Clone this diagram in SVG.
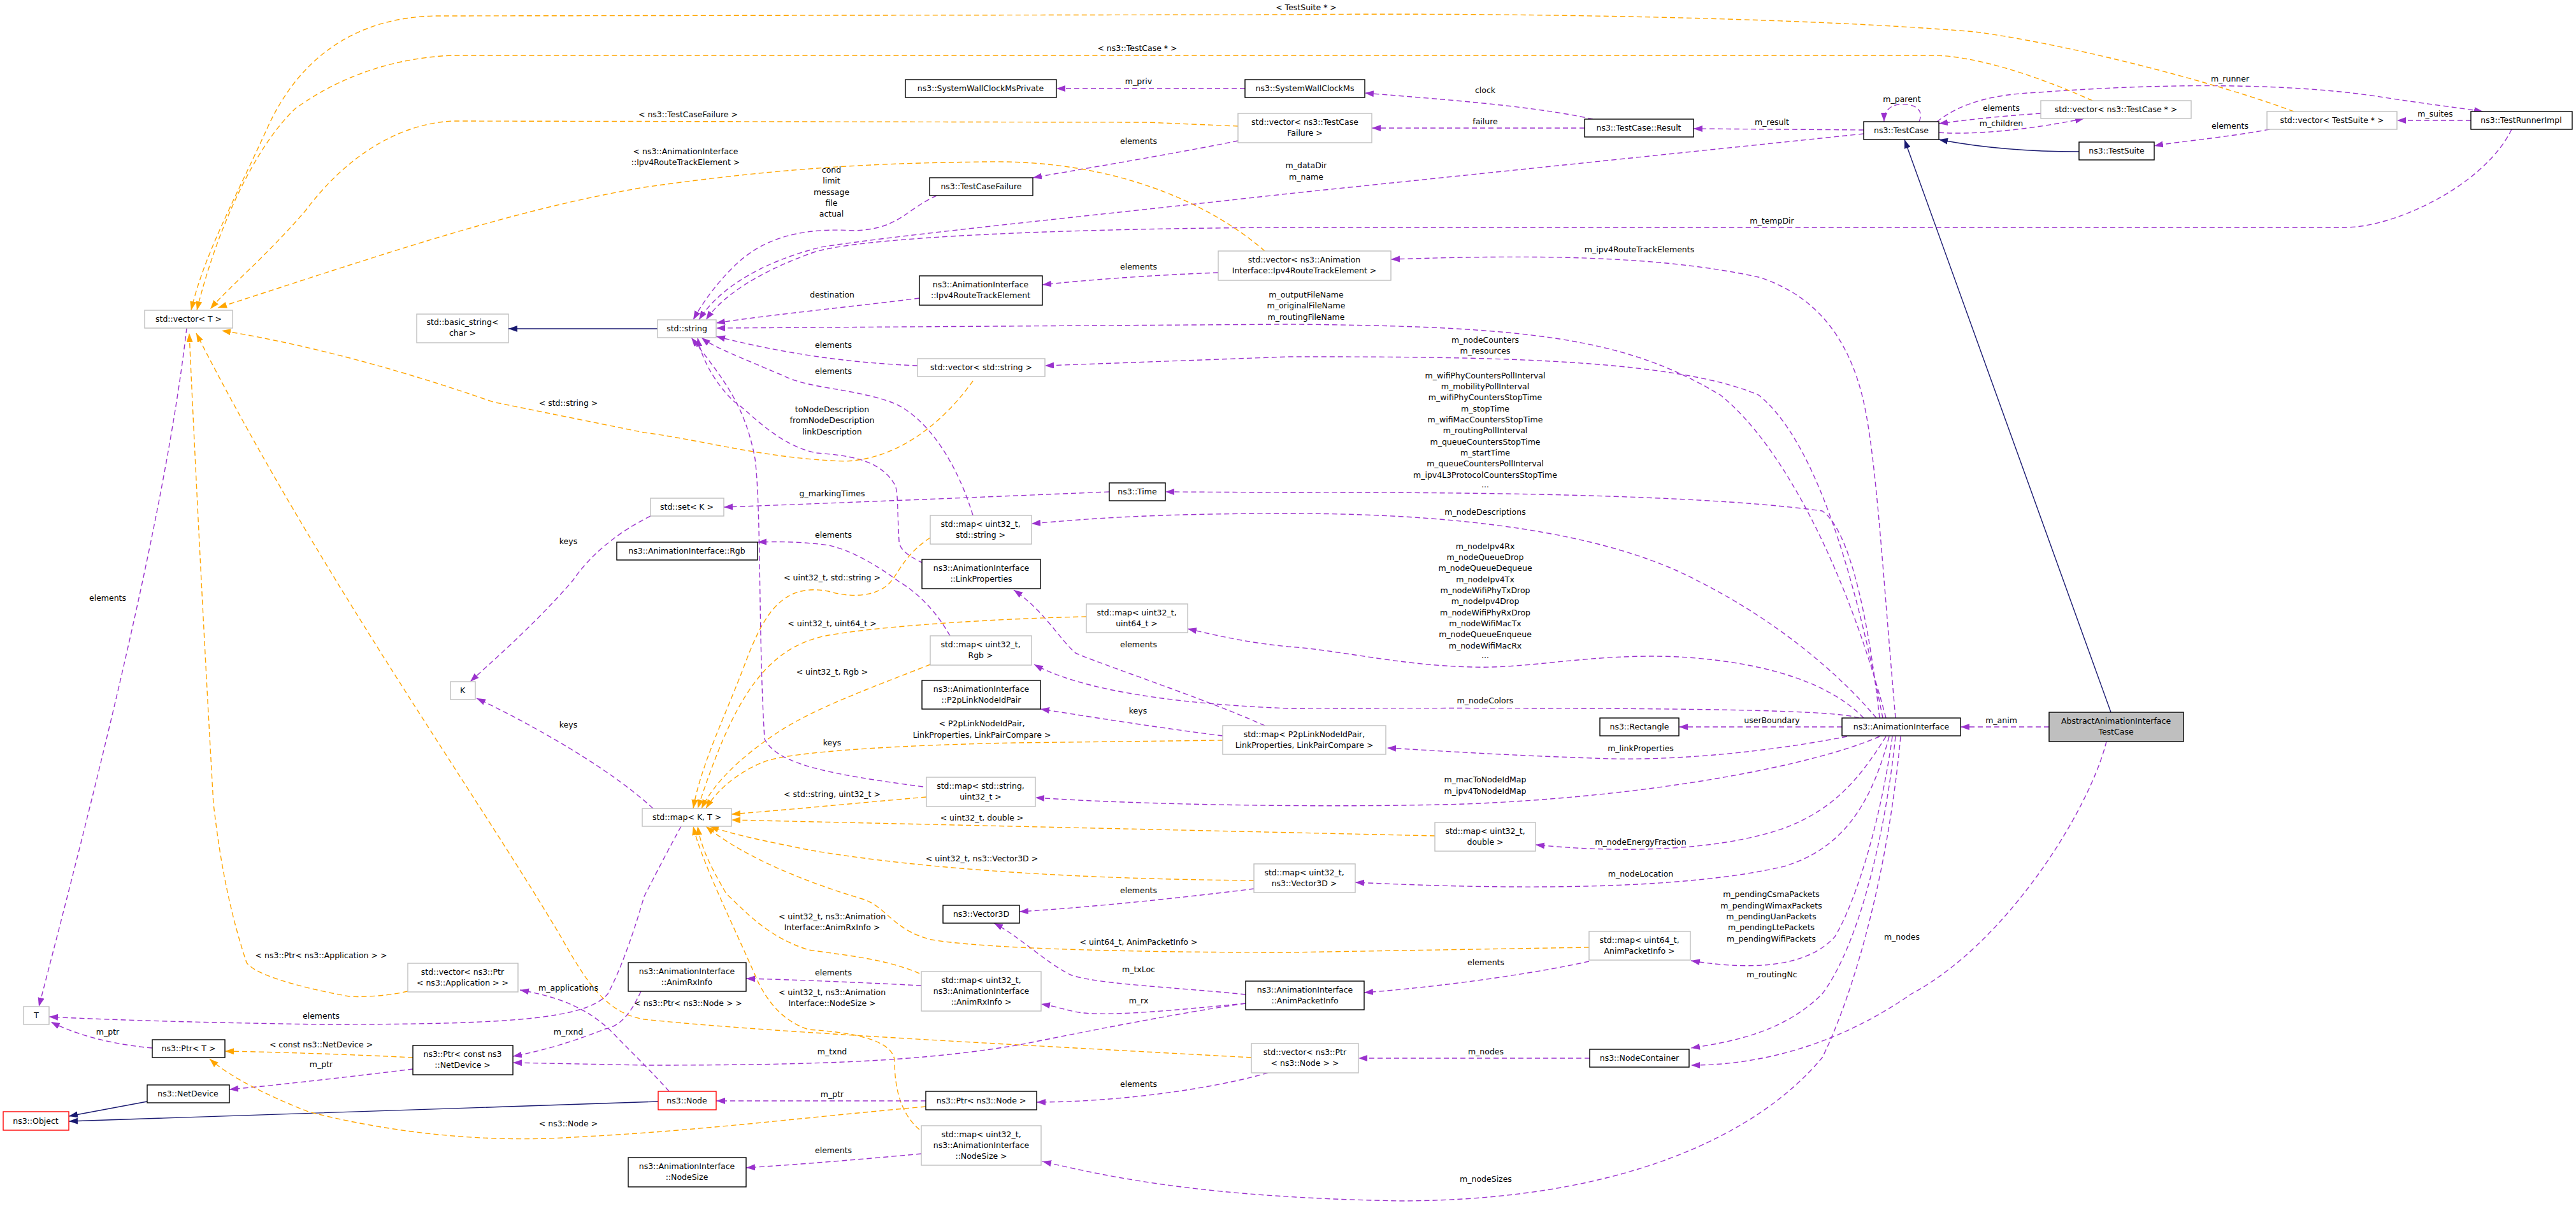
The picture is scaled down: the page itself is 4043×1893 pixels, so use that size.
<svg xmlns="http://www.w3.org/2000/svg" width="4043" height="1893" viewBox="0 0 4043 1893">
<style>
text{font-family:"DejaVu Sans","Liberation Sans",sans-serif;font-size:12.5px;fill:#000;text-anchor:middle}
rect{fill:#fff;stroke-width:1.4}
.b{stroke:#000}.g{stroke:#bfbfbf}.r{stroke:#ff0000}.f{fill:#bfbfbf;stroke:#000}
path{fill:none;stroke-width:1.4}
.p{stroke:#9a32cd;stroke-dasharray:8,5;marker-end:url(#mp)}
.o{stroke:#ffa500;stroke-dasharray:8,5;marker-end:url(#mo)}
.s{stroke:#191970;marker-end:url(#ms)}
</style>
<defs>
<marker id="mp" markerUnits="userSpaceOnUse" markerWidth="15" markerHeight="11" refX="14" refY="5" orient="auto"><path d="M0,0 L14,5 L0,10 z" style="fill:#9a32cd;stroke:none"/></marker>
<marker id="mo" markerUnits="userSpaceOnUse" markerWidth="15" markerHeight="11" refX="14" refY="5" orient="auto"><path d="M0,0 L14,5 L0,10 z" style="fill:#ffa500;stroke:none"/></marker>
<marker id="ms" markerUnits="userSpaceOnUse" markerWidth="15" markerHeight="11" refX="14" refY="5" orient="auto"><path d="M0,0 L14,5 L0,10 z" style="fill:#191970;stroke:none"/></marker>
</defs>
<rect x="0" y="0" width="4043" height="1893" style="fill:#fff;stroke:none"/>
<g id="edges">
<path class="p" d="M3878,189 L3762,189"/><text x="3822" y="183">m_suites</text>
<path class="p" d="M3562,203 C3500,215 3420,222 3381,229"/><text x="3500" y="202">elements</text>
<path class="s" d="M3263,238 C3180,238 3110,232 3043,219"/>
<path class="p" d="M3043,208 C3090,212 3180,205 3271,186"/><text x="3141" y="198">m_children</text>
<path class="p" d="M3203,178 C3130,183 3080,189 3043,194"/><text x="3141" y="174">elements</text>
<path class="p" d="M3012,191 C3022,168 2998,162 2980,164 C2965,166 2957,175 2957,191"/><text x="2985" y="160">m_parent</text>
<path class="p" d="M3040,191 C3080,160 3130,148 3200,145 C3400,130 3600,130 3742,153 C3800,162 3850,168 3897,175"/><text x="3500" y="128">m_runner</text>
<path class="p" d="M3942,203 C3900,290 3760,357 3680,357 L2000,357 C1600,360 1350,375 1280,395 C1180,430 1130,470 1108,502"/><text x="2781" y="351">m_tempDir</text>
<path class="p" d="M2925,210 L2022,304 C1700,340 1400,370 1288,388 C1200,410 1130,450 1097,502"/><text x="2050" y="264">m_dataDir</text><text x="2050" y="282">m_name</text>
<path class="p" d="M2925,204 L2658,202"/><text x="2781" y="196">m_result</text>
<path class="p" d="M2500,187 C2400,165 2250,155 2142,146"/><text x="2331" y="146">clock</text>
<path class="p" d="M2487,201 L2153,201"/><text x="2331" y="195">failure</text>
<path class="p" d="M1954,139 L1658,139"/><text x="1787" y="132">m_priv</text>
<path class="p" d="M1943,221 C1850,240 1700,265 1621,279"/><text x="1787" y="226">elements</text>
<path class="p" d="M1470,307 C1420,330 1410,360 1340,362 C1230,355 1180,390 1150,420 C1120,450 1100,480 1088,502"/><text x="1305" y="271">cond</text><text x="1305" y="288">limit</text><text x="1305" y="306">message</text><text x="1305" y="323">file</text><text x="1305" y="340">actual</text>
<path class="p" d="M1443,468 C1350,480 1200,495 1124,507"/><text x="1306" y="467">destination</text>
<path class="p" d="M1912,428 C1800,432 1700,440 1636,447"/><text x="1787" y="423">elements</text>
<path class="p" d="M2975,1127 C2955,900 2945,720 2925,631 C2900,520 2840,460 2760,435 C2600,400 2400,400 2183,407"/><text x="2573" y="396">m_ipv4RouteTrackElements</text>
<path class="p" d="M2960,1127 C2900,900 2800,700 2700,620 C2550,530 2400,512 2022,509 L1124,515"/><text x="2050" y="467">m_outputFileName</text><text x="2050" y="484">m_originalFileName</text><text x="2050" y="502">m_routingFileName</text>
<path class="p" d="M2955,1127 C2920,950 2860,700 2760,620 C2620,560 2300,560 2022,560 L1640,574"/><text x="2331" y="538">m_nodeCounters</text><text x="2331" y="555">m_resources</text>
<path class="p" d="M1440,574 C1350,570 1250,560 1124,528"/><text x="1308" y="546">elements</text>
<path class="p" d="M1527,809 C1500,720 1450,650 1398,631 C1340,610 1270,610 1230,590 C1160,560 1120,545 1101,530"/><text x="1308" y="587">elements</text>
<path class="p" d="M1449,884 C1420,870 1411,860 1411,848 C1408,800 1410,770 1404,760 C1380,720 1330,715 1282,711 C1220,700 1170,640 1153,631 C1120,600 1100,560 1095,530"/><text x="1306" y="647">toNodeDescription</text><text x="1306" y="664">fromNodeDescription</text><text x="1306" y="682">linkDescription</text>
<path class="p" d="M2950,1127 C2930,950 2900,830 2860,802 C2700,780 2400,772 2022,773 L1829,772"/>
<text x="2331" y="594">m_wifiPhyCountersPollInterval</text><text x="2331" y="611">m_mobilityPollInterval</text><text x="2331" y="628">m_wifiPhyCountersStopTime</text><text x="2331" y="646">m_stopTime</text><text x="2331" y="663">m_wifiMacCountersStopTime</text><text x="2331" y="680">m_routingPollInterval</text><text x="2331" y="698">m_queueCountersStopTime</text><text x="2331" y="715">m_startTime</text><text x="2331" y="732">m_queueCountersPollInterval</text><text x="2331" y="750">m_ipv4L3ProtocolCountersStopTime</text><text x="2331" y="765">...</text>
<path class="p" d="M1741,772 C1500,782 1300,790 1136,796"/><text x="1306" y="779">g_markingTimes</text>
<path class="p" d="M2945,1127 C2880,1050 2780,970 2667,913 C2550,850 2350,806 2022,806 C1800,806 1700,815 1619,822"/><text x="2331" y="808">m_nodeDescriptions</text>
<path class="p" d="M2925,1127 C2880,1080 2790,1040 2634,1031 C2500,1025 2400,1050 2312,1047 C2200,1045 2100,1020 2022,1015 C1950,1008 1900,995 1864,987"/>
<text x="2331" y="862">m_nodeIpv4Rx</text><text x="2331" y="879">m_nodeQueueDrop</text><text x="2331" y="896">m_nodeQueueDequeue</text><text x="2331" y="914">m_nodeIpv4Tx</text><text x="2331" y="931">m_nodeWifiPhyTxDrop</text><text x="2331" y="948">m_nodeIpv4Drop</text><text x="2331" y="966">m_nodeWifiPhyRxDrop</text><text x="2331" y="983">m_nodeWifiMacTx</text><text x="2331" y="1000">m_nodeQueueEnqueue</text><text x="2331" y="1018">m_nodeWifiMacRx</text><text x="2331" y="1033">...</text>
<path class="p" d="M2918,1127 C2880,1115 2700,1110 2022,1112 C1850,1105 1700,1085 1623,1043"/><text x="2331" y="1104">m_nodeColors</text>
<path class="p" d="M2891,1141 L2635,1141"/><text x="2781" y="1135">userBoundary</text>
<path class="p" d="M2899,1156 C2750,1185 2600,1195 2500,1190 C2350,1185 2250,1178 2177,1174"/><text x="2575" y="1179">m_linkProperties</text>
<path class="p" d="M3216,1141 L3077,1141"/><text x="3141" y="1135">m_anim</text>
<path class="s" d="M3313,1118 L2989,219"/>
<path class="p" d="M3306,1164 C3280,1270 3150,1480 3000,1560 C2900,1630 2780,1672 2654,1672"/><text x="2985" y="1475">m_nodes</text>
<path class="p" d="M1985,1139 C1900,1100 1720,1040 1688,1025 C1660,1000 1640,960 1591,926"/><text x="1787" y="1016">elements</text>
<path class="p" d="M1919,1155 C1800,1140 1680,1120 1633,1113"/><text x="1786" y="1120">keys</text>
<path class="o" d="M1919,1162 L1591,1166 C1400,1170 1250,1180 1204,1194 C1160,1210 1125,1240 1108,1269"/><text x="1541" y="1140">&lt; P2pLinkNodeIdPair,</text><text x="1541" y="1158">LinkProperties, LinkPairCompare &gt;</text>
<path class="p" d="M1491,998 C1470,960 1440,930 1411,913 C1380,890 1340,865 1301,856 C1260,850 1220,850 1189,851"/><text x="1308" y="844">elements</text>
<path class="o" d="M1460,1043 C1380,1075 1280,1110 1220,1150 C1160,1190 1120,1230 1101,1269"/><text x="1306" y="1059">&lt; uint32_t, Rgb &gt;</text>
<path class="o" d="M1705,968 C1600,970 1400,980 1301,997 C1200,1015 1150,1100 1095,1269"/><text x="1306" y="983">&lt; uint32_t, uint64_t &gt;</text>
<path class="o" d="M1460,844 C1420,870 1410,900 1398,913 C1380,935 1340,940 1300,928 C1230,915 1200,960 1170,1040 C1140,1120 1100,1200 1088,1269"/><text x="1306" y="911">&lt; uint32_t, std::string &gt;</text>
<path class="o" d="M1454,1251 C1350,1260 1250,1270 1148,1278"/><text x="1306" y="1251">&lt; std::string, uint32_t &gt;</text>
<path class="p" d="M2950,1156 C2850,1200 2600,1250 2300,1262 C2100,1268 1800,1264 1625,1252"/><text x="2331" y="1228">m_macToNodeIdMap</text><text x="2331" y="1246">m_ipv4ToNodeIdMap</text>
<path class="p" d="M1025,1269 C950,1200 820,1130 748,1096"/><text x="892" y="1142">keys</text>
<path class="p" d="M1021,810 C960,840 920,880 900,910 C840,980 770,1040 738,1070"/><text x="892" y="854">keys</text>
<path class="o" d="M2252,1312 L1148,1287"/><text x="1541" y="1288">&lt; uint32_t, double &gt;</text>
<path class="p" d="M2960,1156 C2920,1220 2880,1270 2800,1300 C2700,1335 2550,1340 2410,1326"/><text x="2575" y="1326">m_nodeEnergyFraction</text>
<path class="p" d="M2965,1156 C2940,1250 2900,1330 2800,1360 C2650,1395 2400,1398 2127,1385"/><text x="2575" y="1376">m_nodeLocation</text>
<path class="o" d="M1968,1382 C1700,1380 1450,1365 1269,1334 C1200,1320 1150,1310 1114,1297"/><text x="1541" y="1352">&lt; uint32_t, ns3::Vector3D &gt;</text>
<path class="p" d="M1968,1395 C1850,1410 1700,1425 1600,1431"/><text x="1787" y="1402">elements</text>
<path class="p" d="M1955,1561 C1850,1550 1720,1545 1680,1530 C1640,1510 1600,1470 1560,1449"/><text x="1787" y="1526">m_txLoc</text>
<path class="p" d="M1955,1575 C1850,1585 1750,1595 1700,1590 C1680,1588 1660,1580 1634,1576"/><text x="1787" y="1575">m_rx</text>
<path class="p" d="M2494,1509 C2400,1530 2250,1550 2141,1558"/><text x="2332" y="1515">elements</text>
<path class="p" d="M2970,1156 C2950,1300 2910,1420 2880,1470 C2840,1515 2760,1525 2654,1508"/><text x="2780" y="1408">m_pendingCsmaPackets</text><text x="2780" y="1426">m_pendingWimaxPackets</text><text x="2780" y="1443">m_pendingUanPackets</text><text x="2780" y="1460">m_pendingLtePackets</text><text x="2780" y="1478">m_pendingWifiPackets</text>
<path class="o" d="M2494,1487 L2022,1495 C1800,1495 1550,1490 1462,1475 C1400,1460 1390,1420 1350,1410 C1250,1380 1160,1340 1108,1297"/><text x="1787" y="1483">&lt; uint64_t, AnimPacketInfo &gt;</text>
<path class="p" d="M1446,1547 C1350,1542 1250,1538 1171,1536"/><text x="1308" y="1531">elements</text>
<path class="o" d="M1443,1528 C1390,1505 1330,1500 1269,1491 C1200,1470 1160,1420 1140,1403 C1115,1360 1100,1330 1095,1297"/><text x="1306" y="1443">&lt; uint32_t, ns3::Animation</text><text x="1306" y="1460">Interface::AnimRxInfo &gt;</text>
<path class="o" d="M1443,1773 C1410,1745 1404,1700 1404,1664 C1400,1630 1330,1620 1269,1616 C1220,1600 1200,1560 1191,1544 C1150,1450 1100,1350 1088,1297"/><text x="1306" y="1562">&lt; uint32_t, ns3::Animation</text><text x="1306" y="1579">Interface::NodeSize &gt;</text>
<path class="p" d="M1446,1811 C1350,1820 1250,1828 1171,1833"/><text x="1308" y="1810">elements</text>
<path class="p" d="M2983,1156 C2960,1400 2900,1580 2860,1660 C2760,1780 2550,1884 2200,1885 C1900,1880 1750,1850 1636,1823"/><text x="2332" y="1855">m_nodeSizes</text>
<path class="p" d="M2975,1156 C2960,1300 2920,1480 2860,1560 C2800,1620 2720,1635 2654,1645"/><text x="2781" y="1534">m_routingNc</text>
<path class="p" d="M2495,1661 L2132,1661"/><text x="2332" y="1655">m_nodes</text>
<path class="p" d="M1990,1684 C1900,1710 1750,1730 1627,1730"/><text x="1787" y="1706">elements</text>
<path class="o" d="M1964,1660 C1600,1640 1200,1620 1011,1600 C950,1590 920,1540 880,1470 C750,1250 500,900 308,523"/><text x="1080" y="1579">&lt; ns3::Ptr&lt; ns3::Node &gt; &gt;</text>
<path class="p" d="M1453,1728 L1124,1728"/><text x="1306" y="1722">m_ptr</text>
<path class="s" d="M1033,1729 C700,1740 300,1755 108,1760"/>
<path class="s" d="M231,1729 L108,1752"/>
<path class="p" d="M648,1678 C550,1690 420,1705 360,1710"/><text x="504" y="1675">m_ptr</text>
<path class="o" d="M648,1660 C550,1655 420,1651 353,1650"/><text x="504" y="1644">&lt; const ns3::NetDevice &gt;</text>
<path class="o" d="M1453,1737 C1250,1755 1100,1775 900,1785 C750,1795 600,1775 484,1745 C420,1720 360,1690 329,1662"/><text x="892" y="1768">&lt; ns3::Node &gt;</text>
<path class="p" d="M239,1645 C180,1640 120,1625 80,1604"/><text x="169" y="1624">m_ptr</text>
<path class="p" d="M1955,1575 C1850,1590 1700,1620 1600,1640 C1450,1665 1300,1672 1011,1672 L805,1668"/><text x="1306" y="1655">m_txnd</text>
<path class="p" d="M1006,1556 C990,1590 975,1610 950,1615 C900,1635 850,1650 805,1658"/><text x="892" y="1624">m_rxnd</text>
<path class="p" d="M1050,1713 C1030,1690 1000,1660 970,1630 C930,1585 880,1565 816,1554"/><text x="892" y="1555">m_applications</text>
<path class="o" d="M640,1556 C600,1565 560,1565 548,1564 C470,1550 400,1530 387,1511 C350,1400 340,1300 335,1262 C320,1000 305,700 297,523"/><text x="504" y="1504">&lt; ns3::Ptr&lt; ns3::Application &gt; &gt;</text>
<path class="p" d="M293,515 C260,800 160,1200 61,1580"/><text x="169" y="943">elements</text>
<path class="p" d="M1069,1297 C1040,1350 1020,1390 1011,1407 C990,1480 970,1530 954,1560 C920,1600 800,1608 504,1608 C300,1605 150,1600 77,1596"/><text x="504" y="1599">elements</text>
<path class="p" d="M1449,1235 C1300,1215 1220,1200 1200,1160 C1190,1000 1195,800 1185,720 C1170,640 1140,600 1085,530"/><text x="1306" y="1170">keys</text>
<path class="o" d="M3600,175 C3480,130 3250,70 3100,50 C2800,25 2300,20 2022,23 L690,25 C560,25 470,90 420,200 C370,310 320,400 300,487"/><text x="2050" y="16">&lt; TestSuite * &gt;</text>
<path class="o" d="M3284,158 C3200,120 3100,87 3033,87 L709,87 C600,92 520,130 464,170 C400,230 340,360 309,487"/><text x="1785" y="80">&lt; ns3::TestCase * &gt;</text>
<path class="o" d="M1943,198 L1800,192 L710,190 C620,195 540,250 480,330 C420,400 360,450 330,485"/><text x="1080" y="184">&lt; ns3::TestCaseFailure &gt;</text>
<path class="o" d="M1985,394 C1900,320 1750,250 1546,254 C1400,256 1250,260 1011,294 C800,330 600,400 342,483"/><text x="1076" y="242">&lt; ns3::AnimationInterface</text><text x="1076" y="259">::Ipv4RouteTrackElement &gt;</text>
<path class="o" d="M1527,598 C1490,650 1420,720 1327,724 C1200,720 1100,690 1011,679 L774,631 C600,570 450,535 348,519"/><text x="892" y="637">&lt; std::string &gt;</text>
</g>
<g id="n1"><rect class="g" x="227" y="487" width="138" height="28"/><text x="296" y="505">std::vector&lt; T &gt;</text></g>
<g id="n2"><rect class="g" x="654" y="493" width="144" height="45"/><text x="726" y="510">std::basic_string&lt;</text><text x="726" y="527">char &gt;</text></g>
<path d="M1032,516 L798,516" class="s"/>
<g id="n3"><rect class="b" x="1421" y="125" width="237" height="28"/><text x="1539" y="143">ns3::SystemWallClockMsPrivate</text></g>
<g id="n4"><rect class="b" x="1954" y="125" width="188" height="28"/><text x="2048" y="143">ns3::SystemWallClockMs</text></g>
<g id="n5"><rect class="g" x="1943" y="178" width="210" height="46"/><text x="2048" y="196">std::vector&lt; ns3::TestCase</text><text x="2048" y="213">Failure &gt;</text></g>
<g id="n6"><rect class="b" x="1459" y="279" width="162" height="28"/><text x="1540" y="297">ns3::TestCaseFailure</text></g>
<g id="n7"><rect class="b" x="1443" y="433" width="193" height="46"/><text x="1539" y="451">ns3::AnimationInterface</text><text x="1539" y="468">::Ipv4RouteTrackElement</text></g>
<g id="n8"><rect class="g" x="1912" y="394" width="271" height="46"/><text x="2047" y="412">std::vector&lt; ns3::Animation</text><text x="2047" y="429">Interface::Ipv4RouteTrackElement &gt;</text></g>
<g id="n9"><rect class="g" x="1032" y="502" width="92" height="28"/><text x="1078" y="520">std::string</text></g>
<g id="n10"><rect class="g" x="1440" y="563" width="200" height="28"/><text x="1540" y="581">std::vector&lt; std::string &gt;</text></g>
<g id="n11"><rect class="b" x="2487" y="187" width="171" height="28"/><text x="2572" y="205">ns3::TestCase::Result</text></g>
<g id="n12"><rect class="b" x="2925" y="191" width="118" height="28"/><text x="2984" y="209">ns3::TestCase</text></g>
<g id="n13"><rect class="g" x="3203" y="158" width="236" height="28"/><text x="3321" y="176">std::vector&lt; ns3::TestCase * &gt;</text></g>
<g id="n14"><rect class="g" x="3558" y="175" width="204" height="28"/><text x="3660" y="193">std::vector&lt; TestSuite * &gt;</text></g>
<g id="n15"><rect class="b" x="3878" y="175" width="159" height="28"/><text x="3957" y="193">ns3::TestRunnerImpl</text></g>
<g id="n16"><rect class="b" x="3263" y="223" width="118" height="28"/><text x="3322" y="241">ns3::TestSuite</text></g>
<g id="n17"><rect class="g" x="707" y="1070" width="39" height="28"/><text x="726" y="1088">K</text></g>
<g id="n18"><rect class="b" x="968" y="851" width="221" height="28"/><text x="1078" y="869">ns3::AnimationInterface::Rgb</text></g>
<g id="n19"><rect class="g" x="1021" y="782" width="115" height="28"/><text x="1078" y="800">std::set&lt; K &gt;</text></g>
<g id="n20"><rect class="b" x="1741" y="758" width="88" height="28"/><text x="1785" y="776">ns3::Time</text></g>
<g id="n21"><rect class="g" x="1460" y="809" width="159" height="45"/><text x="1539" y="827">std::map&lt; uint32_t,</text><text x="1539" y="844">std::string &gt;</text></g>
<g id="n22"><rect class="b" x="1447" y="878" width="186" height="46"/><text x="1540" y="896">ns3::AnimationInterface</text><text x="1540" y="913">::LinkProperties</text></g>
<g id="n23"><rect class="g" x="1705" y="948" width="159" height="45"/><text x="1784" y="966">std::map&lt; uint32_t,</text><text x="1784" y="983">uint64_t &gt;</text></g>
<g id="n24"><rect class="g" x="1460" y="998" width="159" height="46"/><text x="1539" y="1016">std::map&lt; uint32_t,</text><text x="1539" y="1033">Rgb &gt;</text></g>
<g id="n25"><rect class="b" x="1447" y="1068" width="186" height="45"/><text x="1540" y="1086">ns3::AnimationInterface</text><text x="1540" y="1103">::P2pLinkNodeIdPair</text></g>
<g id="n26"><rect class="g" x="1919" y="1139" width="256" height="45"/><text x="2047" y="1157">std::map&lt; P2pLinkNodeIdPair,</text><text x="2047" y="1174">LinkProperties, LinkPairCompare &gt;</text></g>
<g id="n27"><rect class="g" x="1454" y="1220" width="171" height="46"/><text x="1539" y="1238">std::map&lt; std::string,</text><text x="1539" y="1255">uint32_t &gt;</text></g>
<g id="n28"><rect class="b" x="2511" y="1127" width="124" height="28"/><text x="2573" y="1145">ns3::Rectangle</text></g>
<g id="n29"><rect class="b" x="2891" y="1127" width="186" height="28"/><text x="2984" y="1145">ns3::AnimationInterface</text></g>
<g id="n30"><rect class="f" x="3216" y="1118" width="211" height="46"/><text x="3321" y="1136">AbstractAnimationInterface</text><text x="3321" y="1153">TestCase</text></g>
<g id="n31"><rect class="g" x="37" y="1580" width="40" height="28"/><text x="57" y="1598">T</text></g>
<g id="n32"><rect class="g" x="640" y="1512" width="173" height="45"/><text x="726" y="1530">std::vector&lt; ns3::Ptr</text><text x="726" y="1547">&lt; ns3::Application &gt; &gt;</text></g>
<g id="n33"><rect class="b" x="239" y="1632" width="114" height="28"/><text x="296" y="1650">ns3::Ptr&lt; T &gt;</text></g>
<g id="n34"><rect class="b" x="648" y="1641" width="157" height="46"/><text x="726" y="1659">ns3::Ptr&lt; const ns3</text><text x="726" y="1676">::NetDevice &gt;</text></g>
<g id="n35"><rect class="b" x="231" y="1703" width="129" height="28"/><text x="295" y="1721">ns3::NetDevice</text></g>
<g id="n36"><rect class="r" x="5" y="1745" width="103" height="29"/><text x="56" y="1764">ns3::Object</text></g>
<g id="n37"><rect class="g" x="1008" y="1269" width="140" height="28"/><text x="1078" y="1287">std::map&lt; K, T &gt;</text></g>
<g id="n38"><rect class="b" x="986" y="1511" width="185" height="45"/><text x="1078" y="1529">ns3::AnimationInterface</text><text x="1078" y="1546">::AnimRxInfo</text></g>
<g id="n39"><rect class="g" x="1446" y="1525" width="188" height="62"/><text x="1540" y="1543">std::map&lt; uint32_t,</text><text x="1540" y="1560">ns3::AnimationInterface</text><text x="1540" y="1577">::AnimRxInfo &gt;</text></g>
<g id="n40"><rect class="b" x="1480" y="1421" width="120" height="28"/><text x="1540" y="1439">ns3::Vector3D</text></g>
<g id="n41"><rect class="g" x="1968" y="1356" width="159" height="45"/><text x="2047" y="1374">std::map&lt; uint32_t,</text><text x="2047" y="1391">ns3::Vector3D &gt;</text></g>
<g id="n42"><rect class="b" x="1955" y="1540" width="186" height="45"/><text x="2048" y="1558">ns3::AnimationInterface</text><text x="2048" y="1575">::AnimPacketInfo</text></g>
<g id="n43"><rect class="g" x="1964" y="1638" width="168" height="46"/><text x="2048" y="1656">std::vector&lt; ns3::Ptr</text><text x="2048" y="1673">&lt; ns3::Node &gt; &gt;</text></g>
<g id="n44"><rect class="r" x="1033" y="1713" width="91" height="29"/><text x="1078" y="1732">ns3::Node</text></g>
<g id="n45"><rect class="b" x="1453" y="1713" width="174" height="29"/><text x="1540" y="1732">ns3::Ptr&lt; ns3::Node &gt;</text></g>
<g id="n46"><rect class="g" x="1446" y="1767" width="188" height="62"/><text x="1540" y="1785">std::map&lt; uint32_t,</text><text x="1540" y="1802">ns3::AnimationInterface</text><text x="1540" y="1819">::NodeSize &gt;</text></g>
<g id="n47"><rect class="b" x="986" y="1817" width="185" height="46"/><text x="1078" y="1835">ns3::AnimationInterface</text><text x="1078" y="1852">::NodeSize</text></g>
<g id="n48"><rect class="g" x="2252" y="1291" width="158" height="45"/><text x="2331" y="1309">std::map&lt; uint32_t,</text><text x="2331" y="1326">double &gt;</text></g>
<g id="n49"><rect class="g" x="2494" y="1462" width="159" height="45"/><text x="2573" y="1480">std::map&lt; uint64_t,</text><text x="2573" y="1497">AnimPacketInfo &gt;</text></g>
<g id="n50"><rect class="b" x="2495" y="1647" width="156" height="28"/><text x="2573" y="1665">ns3::NodeContainer</text></g>
</svg>
